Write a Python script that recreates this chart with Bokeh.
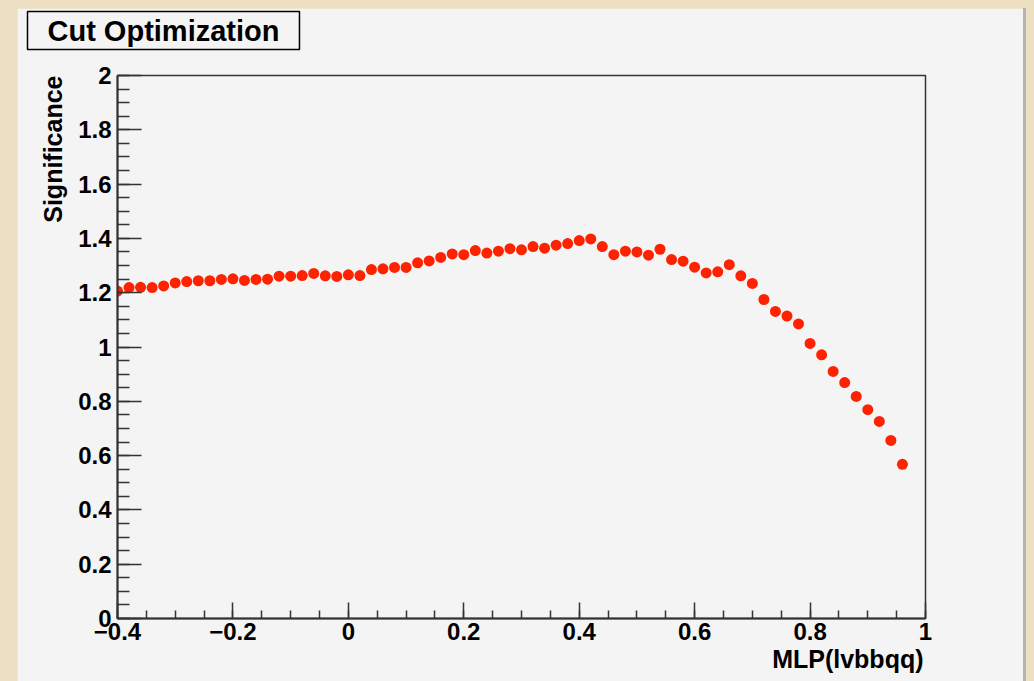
from bokeh.plotting import figure
from bokeh.models import Range1d, FixedTicker, Title
from bokeh.embed import file_html
from bokeh.resources import INLINE

# ---------------- data ----------------
mlp_cut = [-0.40, -0.38, -0.36, -0.34, -0.32, -0.30, -0.28, -0.26, -0.24, -0.22,
           -0.20, -0.18, -0.16, -0.14, -0.12, -0.10, -0.08, -0.06, -0.04, -0.02,
           0.00, 0.02, 0.04, 0.06, 0.08, 0.10, 0.12, 0.14, 0.16, 0.18,
           0.20, 0.22, 0.24, 0.26, 0.28, 0.30, 0.32, 0.34, 0.36, 0.38,
           0.40, 0.42, 0.44, 0.46, 0.48, 0.50, 0.52, 0.54, 0.56, 0.58,
           0.60, 0.62, 0.64, 0.66, 0.68, 0.70, 0.72, 0.74, 0.76, 0.78,
           0.80, 0.82, 0.84, 0.86, 0.88, 0.90, 0.92, 0.94, 0.96]
significance = [1.206, 1.219, 1.220, 1.219, 1.225, 1.236, 1.241, 1.244, 1.244, 1.249,
                1.251, 1.245, 1.249, 1.250, 1.261, 1.261, 1.263, 1.271, 1.262, 1.260,
                1.266, 1.263, 1.285, 1.288, 1.293, 1.293, 1.310, 1.317, 1.330, 1.343,
                1.340, 1.355, 1.346, 1.353, 1.362, 1.358, 1.370, 1.364, 1.375, 1.381,
                1.392, 1.398, 1.370, 1.340, 1.353, 1.350, 1.338, 1.360, 1.322, 1.316,
                1.294, 1.273, 1.277, 1.303, 1.262, 1.234, 1.175, 1.131, 1.114, 1.085,
                1.013, 0.971, 0.910, 0.869, 0.818, 0.769, 0.726, 0.656, 0.568]

x_ticks = [-0.4, -0.2, 0.0, 0.2, 0.4, 0.6, 0.8, 1.0]
x_tick_labels = ["\u22120.4", "\u22120.2", "0", "0.2", "0.4", "0.6", "0.8", "1"]
y_ticks = [0.0, 0.2, 0.4, 0.6, 0.8, 1.0, 1.2, 1.4, 1.6, 1.8, 2.0]
y_tick_labels = ["0", "0.2", "0.4", "0.6", "0.8", "1", "1.2", "1.4", "1.6", "1.8", "2"]

title_text = "Cut Optimization"
x_title = "MLP(lvbbqq)"
y_title = "Significance"

# ---------------- styling ----------------
FONT = "Liberation Sans"
PANEL = "#f4f4f4"
X0, X1, Y0, Y1 = -0.4, 1.0, 0.0, 2.0
FL, FR, FT, FB = 117, 925, 75, 618   # frame edges in page pixels
PX, PY = 17, 8                       # panel origin in page pixels
PW, PH = 1006, 673

p = figure(width=PW, height=PH,
           x_range=Range1d(X0, X1), y_range=Range1d(Y0, Y1),
           output_backend="svg", toolbar_location=None,
           min_border_left=FL - PX, min_border_right=PX + PW - FR,
           min_border_top=FT - PY, min_border_bottom=PY + PH - FB,
           background_fill_color=PANEL, border_fill_color=PANEL,
           outline_line_color="#333333", outline_line_width=1.5,
           margin=(PY, 0, 0, PX))
p.styles = {"box-shadow": "3px 0px 0px #b5b5b5"}
p.grid.visible = False

x_minor = [round(-0.4 + 0.05 * i, 2) for i in range(29)]
y_minor = [round(0.05 * i, 2) for i in range(41)]
p.xaxis.ticker = FixedTicker(ticks=x_ticks, minor_ticks=x_minor)
p.yaxis.ticker = FixedTicker(ticks=y_ticks, minor_ticks=y_minor)
p.xaxis.major_label_overrides = dict(zip(x_ticks, x_tick_labels))
p.yaxis.major_label_overrides = dict(zip(y_ticks, y_tick_labels))

for ax in (p.xaxis, p.yaxis):
    ax.axis_line_width = 2
    ax.axis_line_color = "#333333"
    ax.major_tick_line_color = "#333333"
    ax.minor_tick_line_color = "#333333"
    ax.major_tick_line_width = 1.5
    ax.minor_tick_line_width = 1.5
    ax.major_tick_out = 0
    ax.minor_tick_out = 0
    ax.major_label_text_font = FONT
    ax.major_label_text_font_style = "bold"
    ax.major_label_text_font_size = "24px"
    ax.major_label_text_color = "black"

p.xaxis.major_tick_in = 16
p.xaxis.minor_tick_in = 8
p.xaxis.major_label_standoff = 4
p.yaxis.major_tick_in = 24
p.yaxis.minor_tick_in = 12
p.yaxis.major_label_standoff = 6

p.scatter(mlp_cut, significance, marker="circle", size=11,
          fill_color="#ff2200", line_color=None)

# spacer between the title box and the frame
spacer = Title(text=" ", text_font_size="1px", standoff=18)
p.add_layout(spacer, "above")

# plot title in a box (ROOT style), outermost in the top border
p.title.text = title_text
p.title.align = "left"
p.title.offset = 27 - FL
p.title.text_font = FONT
p.title.text_font_style = "bold"
p.title.text_font_size = "29px"
p.title.text_color = "black"
p.title.background_fill_color = PANEL
p.title.border_line_color = "black"
p.title.border_line_width = 1.5
p.title.padding = (20, 3)
p.title.vertical_align = "top"
p.title.standoff = 6

# axis titles at the axis ends
ylab = Title(text=y_title, align="right", offset=0,
             text_font=FONT, text_font_style="bold", text_font_size="25px",
             text_color="black", standoff=18)
xlab = Title(text=x_title, align="right", offset=2,
             text_font=FONT, text_font_style="bold", text_font_size="25px",
             text_color="black", standoff=0)
p.add_layout(ylab, "left")
p.add_layout(xlab, "below")

html = file_html(p, INLINE, title="Cut Optimization")
html = html.replace("</head>",
                    "<style>html, body { background-color: #ede0c3 !important; }</style></head>", 1)
open("out.html", "w").write(html)
